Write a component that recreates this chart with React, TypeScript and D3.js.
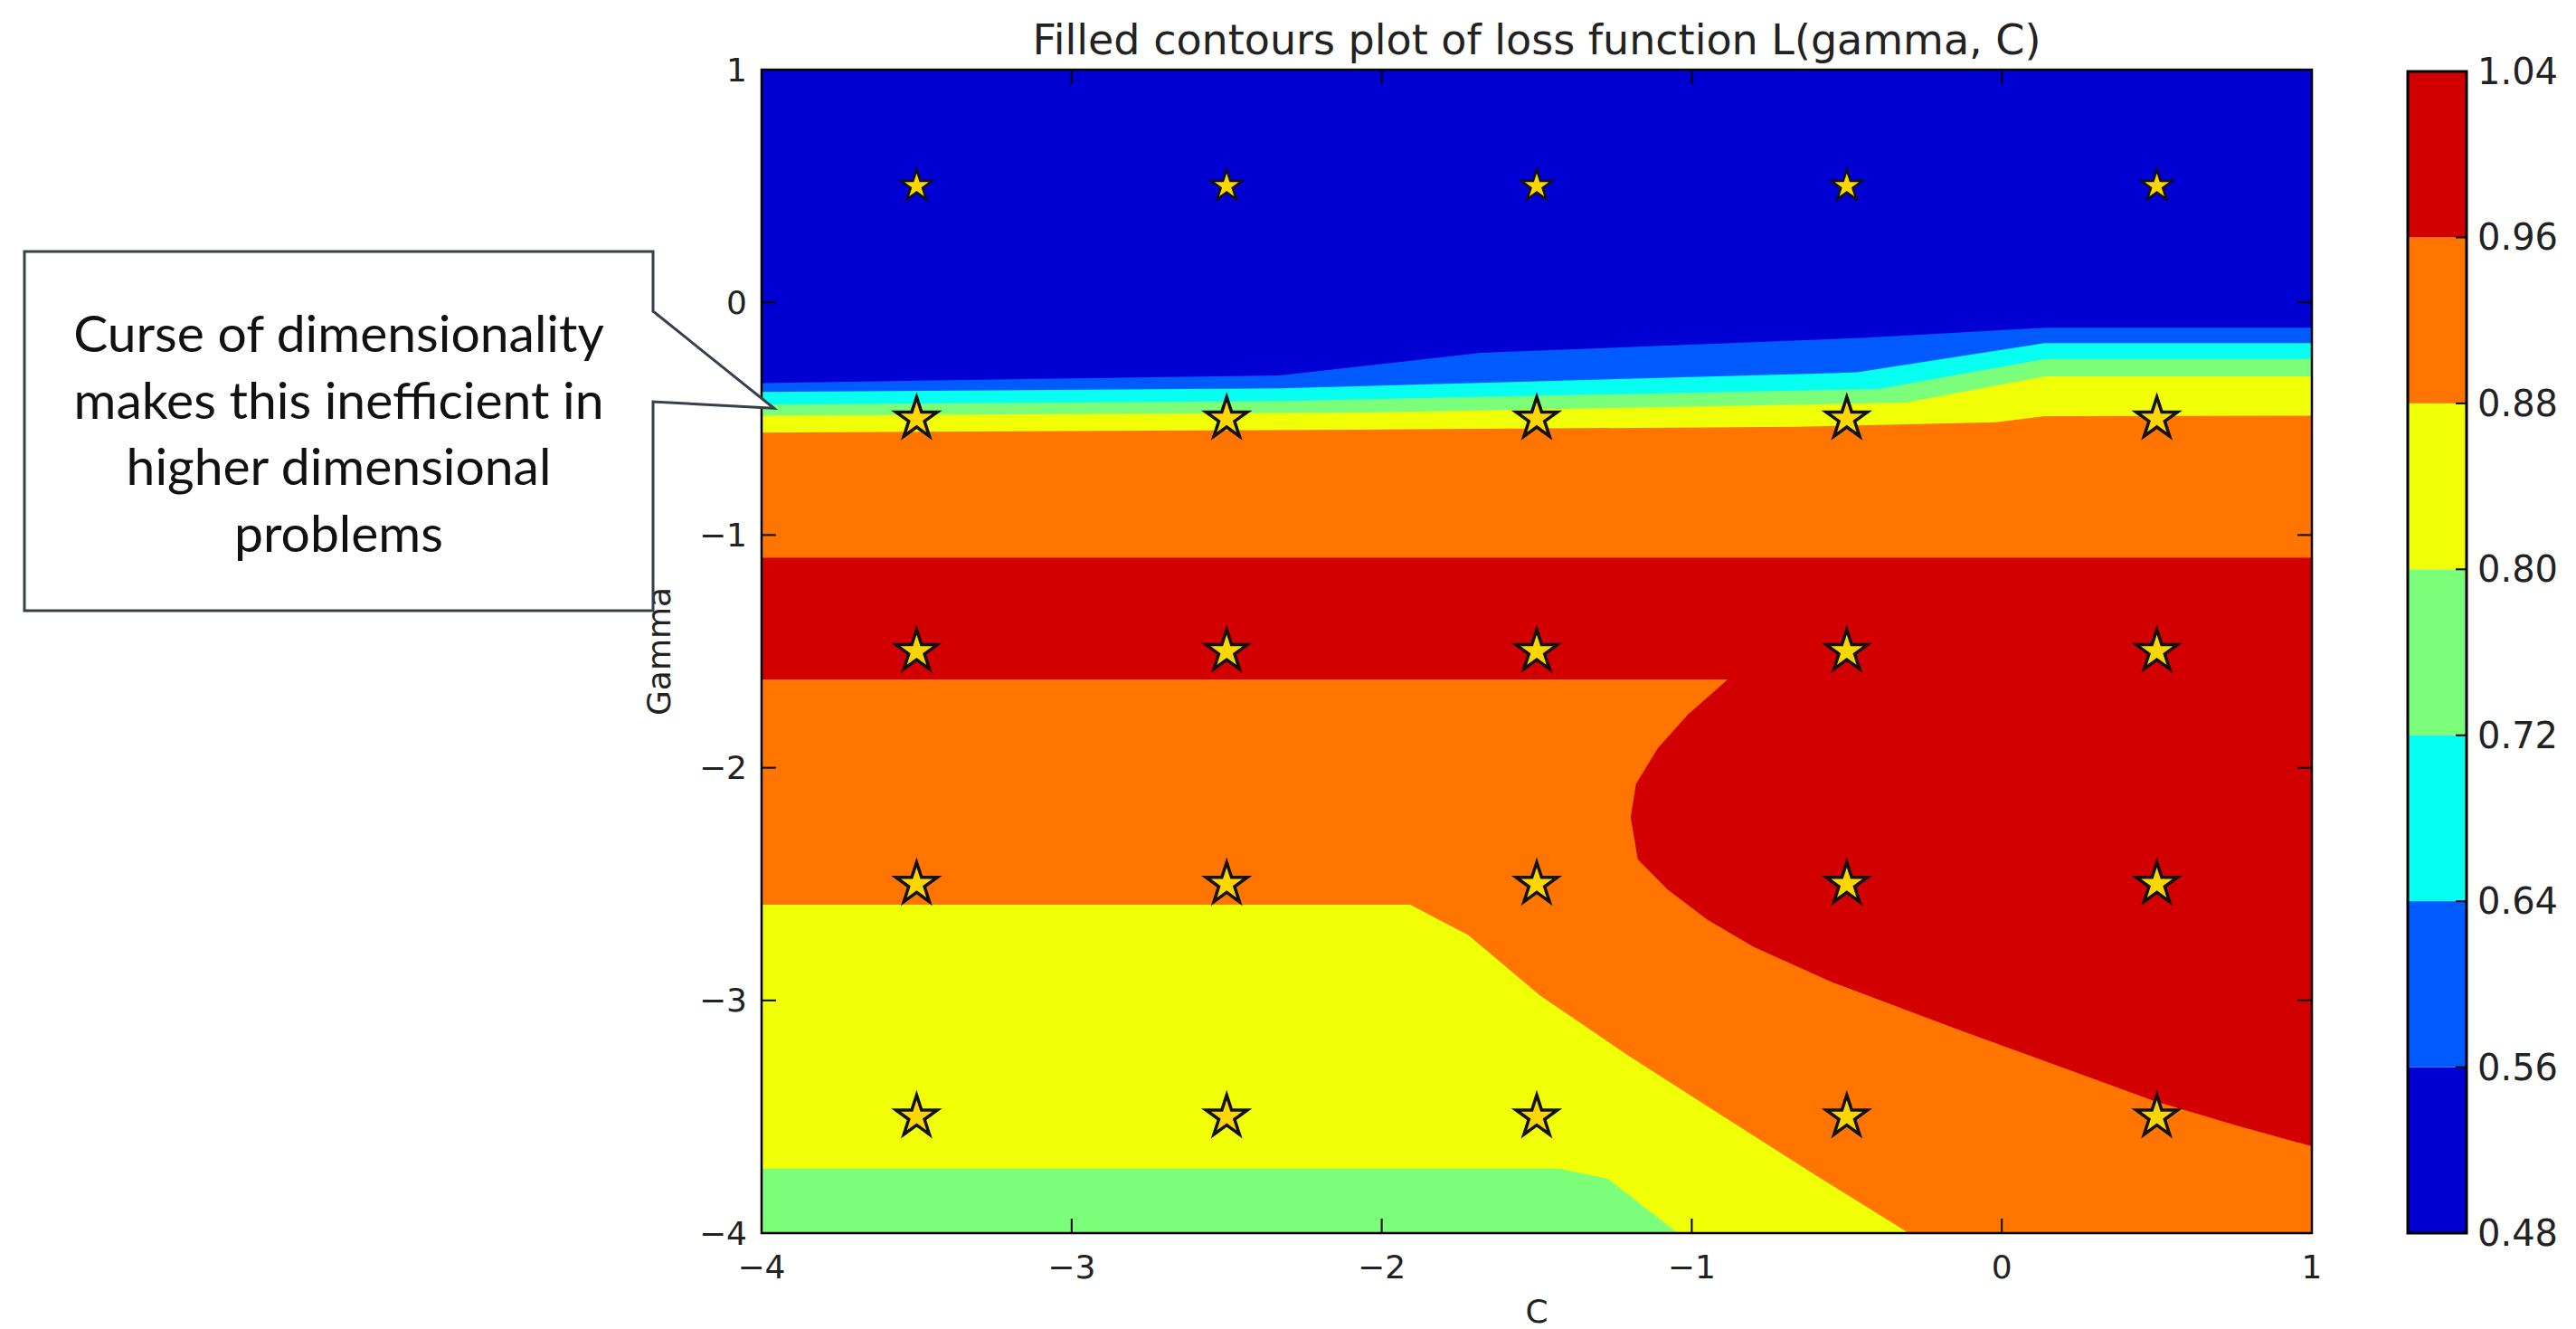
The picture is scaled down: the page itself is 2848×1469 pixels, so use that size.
import * as d3 from "d3";

// chart values
const C_TICKS = [-4, -3, -2, -1, 0, 1];
const GAMMA_TICKS = [1, 0, -1, -2, -3, -4];
const LEVELS = [0.48, 0.56, 0.64, 0.72, 0.8, 0.88, 0.96, 1.04];
// jet colours of each band (low -> high)
const BAND_COLORS = ["#0000d2", "#005bff", "#06fff1", "#7bff7b", "#f1ff06", "#ff7500", "#d20000"];

const STAR_C = [-3.5, -2.5, -1.5, -0.5, 0.5];
const STAR_GAMMA = [0.5, -0.5, -1.5, -2.5, -3.5];

// contour lines [C, gamma]
const iso056 = [[-4, -0.347], [-2.33, -0.314], [-1.68, -0.217], [-0.435, -0.152], [0.139, -0.109], [1, -0.109]];
const iso064 = [[-4, -0.385], [-2.33, -0.37], [-0.467, -0.301], [0.139, -0.175], [1, -0.175]];
const iso072 = [[-4, -0.44], [-2.33, -0.424], [-0.4, -0.372], [0.139, -0.243], [1, -0.243]];
const iso080 = [[-4, -0.487], [-2.07, -0.474], [-0.31, -0.431], [0.139, -0.318], [1, -0.318]];
const iso088 = [[-4, -0.56], [-2.07, -0.547], [-0.66, -0.535], [-0.02, -0.515], [0.139, -0.489], [1, -0.487]];
const iso096 = [[-4, -1.098], [1, -1.098]];
const iso096low = [[-4, -1.621], [-0.884, -1.621], [-1.013, -1.772], [-1.109, -1.915], [-1.18, -2.07], [-1.197, -2.213],
  [-1.174, -2.394], [-1.078, -2.524], [-0.949, -2.654], [-0.8, -2.77], [-0.55, -2.92], [-0.149, -3.121],
  [0.172, -3.277], [0.492, -3.432], [0.749, -3.534], [1, -3.627]];
const iso088low = [[-4, -2.589], [-1.908, -2.589], [-1.72, -2.72], [-1.49, -2.978], [-1.205, -3.237], [-0.917, -3.483],
  [-0.596, -3.755], [-0.3, -4]];
const iso080low = [[-4, -3.723], [-1.427, -3.723], [-1.27, -3.767], [-1.045, -4]];

const CALLOUT = ["Curse of dimensionality", "makes this inefficient in", "higher dimensional", "problems"];

const W = 2848;
const H = 1469;
const left = 842, right = 2556, top = 77, bottom = 1363;

export default function App() {
  const x = d3.scaleLinear([-4, 1], [left, right]);
  const y = d3.scaleLinear([-4, 1], [bottom, top]);
  const cy = d3.scaleLinear([0.48, 1.04], [bottom, top + 2]);
  const line = d3.line<number[]>().x(d => x(d[0])).y(d => y(d[1]));

  // painted top to bottom: area under each line gets the band below it
  const layers = [
    { pts: iso056, color: BAND_COLORS[1] },
    { pts: iso064, color: BAND_COLORS[2] },
    { pts: iso072, color: BAND_COLORS[3] },
    { pts: iso080, color: BAND_COLORS[4] },
    { pts: iso088, color: BAND_COLORS[5] },
    { pts: iso096, color: BAND_COLORS[6] },
    { pts: iso096low, color: BAND_COLORS[5] },
    { pts: iso088low, color: BAND_COLORS[4] },
    { pts: iso080low, color: BAND_COLORS[3] },
  ];
  const closed = (pts: number[][]) => {
    const last = pts[pts.length - 1];
    const tail = last[0] === 1 ? [[1, -4], [-4, -4]] : [[-4, -4]];
    return line([...pts, ...tail]) + "Z";
  };

  const star = (r: number) => d3.symbol(d3.symbolStar, (r * r) / 0.8908130915292852)();
  const fmtTick = d3.format("d");
  const fmtBar = d3.format(".2f");
  const tickFont = { fontFamily: "DejaVu Sans", fontSize: 36, fill: "#222" };

  const tipX = x(-3.96), tipY = y(-0.455);
  const box = { l: 27, r: 722, t: 278, b: 675 };
  const calloutPath = `M${box.l},${box.t}H${box.r}V344L${tipX},${tipY}L${box.r},444V${box.b}H${box.l}Z`;

  return (
    <svg width={W} height={H} style={{ position: "absolute", left: 0, top: 0, background: "#fff" }}>
      <defs>
        <clipPath id="plot">
          <rect x={left} y={top} width={right - left} height={bottom - top} />
        </clipPath>
      </defs>
      <g clipPath="url(#plot)">
        <rect x={left} y={top} width={right - left} height={bottom - top} fill={BAND_COLORS[0]} />
        {layers.map((l, i) => (
          <path key={i} d={closed(l.pts)} fill={l.color} />
        ))}
      </g>

      {STAR_GAMMA.map((g, gi) =>
        STAR_C.map((c, ci) => (
          <path key={`${gi}-${ci}`} d={star(gi === 0 ? 18 : 24)} transform={`translate(${x(c)},${y(g)})`}
            fill="#ffd700" stroke="#111" strokeWidth={gi === 0 ? 2.5 : 3.5} strokeLinejoin="miter" />
        ))
      )}

      {/* ticks inward on all sides */}
      {C_TICKS.map(t => (
        <g key={`xt${t}`} stroke="#000" strokeWidth={2}>
          <line x1={x(t)} x2={x(t)} y1={bottom} y2={bottom - 16} />
          <line x1={x(t)} x2={x(t)} y1={top} y2={top + 16} />
        </g>
      ))}
      {GAMMA_TICKS.map(t => (
        <g key={`yt${t}`} stroke="#000" strokeWidth={2}>
          <line x1={left} x2={left + 16} y1={y(t)} y2={y(t)} />
          <line x1={right} x2={right - 16} y1={y(t)} y2={y(t)} />
        </g>
      ))}
      <rect x={left} y={top} width={right - left} height={bottom - top} fill="none" stroke="#000" strokeWidth={2.5} />

      {C_TICKS.map(t => (
        <text key={`xl${t}`} x={x(t)} y={1413} textAnchor="middle" {...tickFont}>{fmtTick(t)}</text>
      ))}
      {GAMMA_TICKS.map(t => (
        <text key={`yl${t}`} x={left - 16} y={y(t)} textAnchor="end" dominantBaseline="central" {...tickFont}>{fmtTick(t)}</text>
      ))}
      <text x={(left + right) / 2} y={1462} textAnchor="middle" {...tickFont}>C</text>
      <text transform={`translate(741,${(top + bottom) / 2}) rotate(-90)`} textAnchor="middle" {...tickFont}>Gamma</text>
      <text x={(left + right) / 2} y={60} textAnchor="middle" fontFamily="DejaVu Sans" fontSize={46} fill="#222">
        Filled contours plot of loss function L(gamma, C)
      </text>

      {/* colour bar */}
      <g>
        {BAND_COLORS.map((c, i) => (
          <rect key={c} x={2662} width={65} y={cy(LEVELS[i + 1])} height={cy(LEVELS[i]) - cy(LEVELS[i + 1])} fill={c} />
        ))}
        {LEVELS.map(v => (
          <g key={v}>
            <line x1={2727} x2={2715} y1={cy(v)} y2={cy(v)} stroke="#000" strokeWidth={2} />
            <text x={2739} y={cy(v)} dominantBaseline="central" {...tickFont} fontSize={40}>{fmtBar(v)}</text>
          </g>
        ))}
        <rect x={2662} y={cy(1.04)} width={65} height={cy(0.48) - cy(1.04)} fill="none" stroke="#000" strokeWidth={3} />
      </g>

      {/* callout */}
      <path d={calloutPath} fill="#fff" stroke="#36404a" strokeWidth={3} strokeLinejoin="miter" />
      {CALLOUT.map((s, i) => (
        <text key={s} x={(box.l + box.r) / 2} y={389 + i * 73.5} textAnchor="middle"
          fontFamily="Lato" fontSize={57} fill="#111">{s}</text>
      ))}
    </svg>
  );
}
